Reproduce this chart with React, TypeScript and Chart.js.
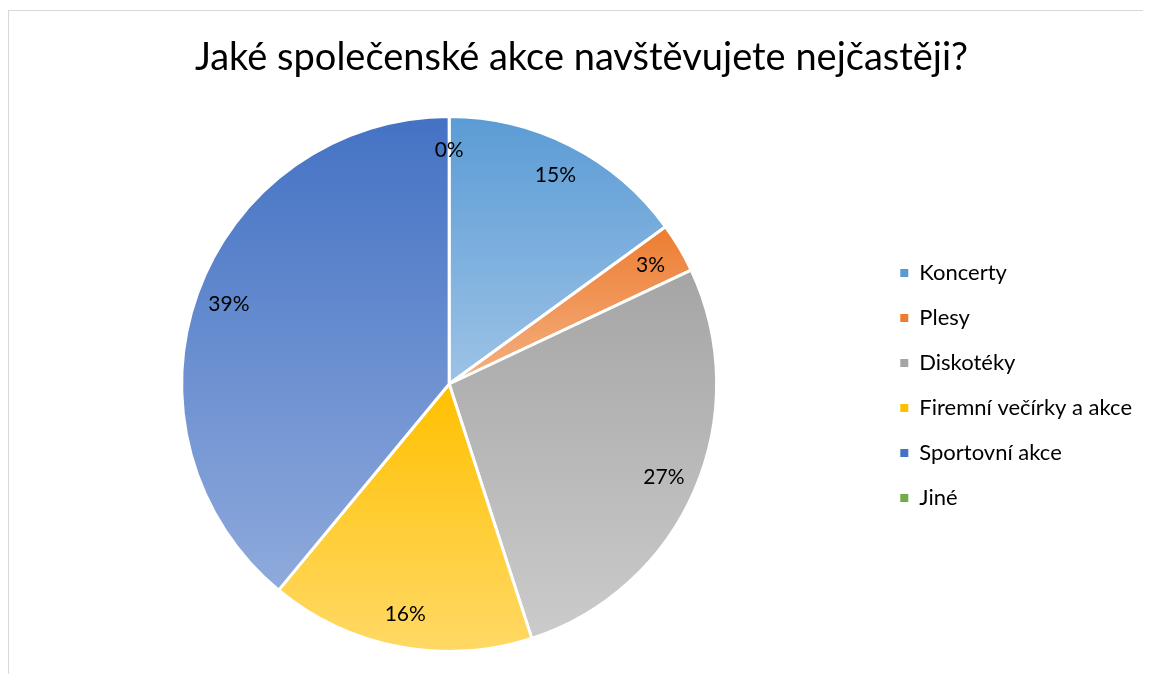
import React, { useEffect, useRef } from "react";
import { Chart, registerables } from "chart.js";

Chart.register(...registerables);

const categories = [
  "Koncerty",
  "Plesy",
  "Diskotéky",
  "Firemní večírky a akce",
  "Sportovní akce",
  "Jiné",
];
const values = [15, 3, 27, 16, 39, 0];
const percentLabels = ["15%", "3%", "27%", "16%", "39%", "0%"];
const topColors = ["#5B9BD5", "#ED7D31", "#A5A5A5", "#FFC000", "#4472C4", "#70AD47"];
const bottomColors = ["#9DC3E6", "#F4B183", "#CBCBCB", "#FFD966", "#8FAADC", "#A9D18E"];
const chartTitle = "Jaké společenské akce navštěvujete nejčastěji?";

const FONT = "Lato, 'Open Sans', sans-serif";

const gradientPlugin = {
  id: "sliceGradient",
  beforeDatasetsDraw(chart: any) {
    const ctx = chart.ctx;
    const meta = chart.getDatasetMeta(0);
    meta.data.forEach((arc: any, i: number) => {
      const { y, startAngle, endAngle, outerRadius } = arc.getProps(
        ["x", "y", "startAngle", "endAngle", "outerRadius"],
        true
      );
      let ymin = y;
      let ymax = y;
      const steps = 60;
      for (let s = 0; s <= steps; s++) {
        const a = startAngle + ((endAngle - startAngle) * s) / steps;
        const py = y + outerRadius * Math.sin(a);
        ymin = Math.min(ymin, py);
        ymax = Math.max(ymax, py);
      }
      if (ymax - ymin < 1) ymax = ymin + 1;
      const g = ctx.createLinearGradient(0, ymin, 0, ymax);
      g.addColorStop(0, topColors[i]);
      g.addColorStop(1, bottomColors[i]);
      arc.options = { ...arc.options, backgroundColor: g };
    });
  },
};

const labelPlugin = {
  id: "sliceLabels",
  afterDatasetsDraw(chart: any) {
    const ctx = chart.ctx;
    const meta = chart.getDatasetMeta(0);
    ctx.save();
    ctx.font = `21px ${FONT}`;
    ctx.fillStyle = "#000000";
    ctx.textAlign = "center";
    ctx.textBaseline = "middle";
    meta.data.forEach((arc: any, i: number) => {
      const { x, y, startAngle, endAngle, outerRadius } = arc.getProps(
        ["x", "y", "startAngle", "endAngle", "outerRadius"],
        true
      );
      const mid = (startAngle + endAngle) / 2;
      const r = outerRadius * 0.875;
      ctx.fillText(percentLabels[i], x + r * Math.cos(mid), y + r * Math.sin(mid));
    });
    ctx.restore();
  },
};

export default function App() {
  const canvasRef = useRef<HTMLCanvasElement | null>(null);

  useEffect(() => {
    if (!canvasRef.current) return;
    const chart = new Chart(canvasRef.current, {
      type: "pie",
      data: {
        labels: categories,
        datasets: [
          {
            data: values,
            backgroundColor: topColors,
            borderColor: "#FFFFFF",
            borderWidth: 3,
          },
        ],
      },
      options: {
        animation: false,
        responsive: true,
        maintainAspectRatio: false,
        layout: { padding: { left: 12, right: 27, top: 0, bottom: 21 } },
        plugins: {
          title: {
            display: true,
            text: chartTitle,
            color: "#000000",
            font: { family: FONT, size: 38, weight: "normal" as any, lineHeight: 1.2 },
            padding: { top: 24, bottom: 34.4 },
          },
          legend: {
            position: "right",
            align: "start",
            title: {
              display: true,
              text: " ",
              font: { family: FONT, size: 10, lineHeight: 1 },
              padding: { top: 218, bottom: 0 },
            },
            labels: {
              boxWidth: 8,
              boxHeight: 8,
              padding: 23,
              color: "#000000",
              font: { family: FONT, size: 22, lineHeight: 1.2 },
              generateLabels: () =>
                categories.map((c, i) => ({
                  text: c,
                  fillStyle: topColors[i],
                  strokeStyle: topColors[i],
                  lineWidth: 0,
                  hidden: false,
                  index: i,
                  fontColor: "#000000",
                })),
            },
          },
          tooltip: { enabled: false },
        },
      },
      plugins: [gradientPlugin, labelPlugin],
    });
    return () => chart.destroy();
  }, []);

  return (
    <div
      style={{
        marginTop: 2,
        width: 1143,
        height: 664,
        boxSizing: "border-box",
        borderTop: "1px solid #D9D9D9",
        borderLeft: "1px solid #D9D9D9",
        background: "#FFFFFF",
        overflow: "hidden",
      }}
    >
      <div style={{ position: "relative", width: 1160, height: 663 }}>
        <canvas ref={canvasRef} />
      </div>
    </div>
  );
}
